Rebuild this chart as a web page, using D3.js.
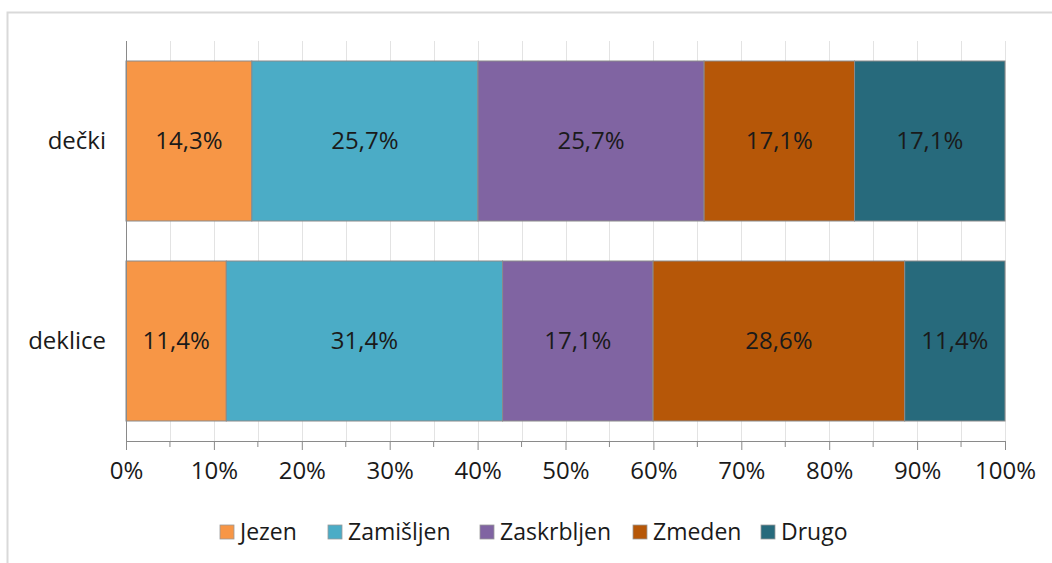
<!DOCTYPE html>
<html>
<head>
<meta charset="utf-8">
<script src="https://cdn.jsdelivr.net/npm/d3@7"></script>
<style>
  body { margin: 0; background: #fff; }
  svg { display: block; font-family: "Open Sans", "Liberation Sans", sans-serif; }
</style>
</head>
<body>
<div id="chart"></div>
<script>
const categories = ["dečki", "deklice"];
const seriesNames = ["Jezen", "Zamišljen", "Zaskrbljen", "Zmeden", "Drugo"];
const seriesColors = ["#F79646", "#4BACC6", "#8064A2", "#B65708", "#276A7C"];
// percentages per category, in series order
const valuesDecki = [14.3, 25.7, 25.7, 17.1, 17.1];
const valuesDeklice = [11.4, 31.4, 17.1, 28.6, 11.4];
const tickValues = [0, 0.1, 0.2, 0.3, 0.4, 0.5, 0.6, 0.7, 0.8, 0.9, 1];

const W = 1052, H = 563;
const margin = { top: 41, right: 47, bottom: 122, left: 126 };
const width = W - margin.left - margin.right;
const height = H - margin.top - margin.bottom;
const fontFam = "'Open Sans', 'Liberation Sans', sans-serif";

const rows = [valuesDecki, valuesDeklice].map((vals, i) => {
  const total = d3.sum(vals);
  let acc = 0;
  return {
    cat: categories[i],
    segs: vals.map((v, j) => {
      const s = { name: seriesNames[j], v, x0: acc / total, x1: (acc + v) / total };
      acc += v;
      return s;
    })
  };
});

const svg = d3.select("#chart").append("svg")
  .attr("width", W).attr("height", H);

// outer frame (clipped at right and bottom like the reference)
svg.append("path")
  .attr("d", `M7.5,${H} V12.5 H${W}`)
  .attr("fill", "none").attr("stroke", "#d9d9d9").attr("stroke-width", 2);

const g = svg.append("g").attr("transform", `translate(${margin.left},${margin.top})`);

const x = d3.scaleLinear().domain([0, 1]).range([0, width]);
const y = d3.scaleBand().domain(categories).range([0, height]).paddingInner(0.2).paddingOuter(0.1);

// gridlines every 5%
g.append("g").selectAll("line")
  .data(d3.range(1, 21).map(d => d / 20))
  .enter().append("line")
  .attr("x1", d => Math.round(x(d)) + 0.5).attr("x2", d => Math.round(x(d)) + 0.5)
  .attr("y1", 0).attr("y2", height)
  .attr("stroke", "#e3e3e3").attr("stroke-width", 1);

// bars
const rowG = g.selectAll(".row").data(rows).enter().append("g")
  .attr("transform", d => `translate(0,${y(d.cat)})`);

rowG.selectAll("rect").data(d => d.segs).enter().append("rect")
  .attr("x", d => x(d.x0)).attr("y", 0)
  .attr("width", d => x(d.x1) - x(d.x0))
  .attr("height", y.bandwidth())
  .attr("fill", (d, i) => seriesColors[i])
  .attr("stroke", "#8a8a8a").attr("stroke-width", 1);

rowG.selectAll("text").data(d => d.segs).enter().append("text")
  .attr("x", d => x((d.x0 + d.x1) / 2))
  .attr("y", y.bandwidth() / 2)
  .attr("dy", "0.35em")
  .attr("text-anchor", "middle")
  .attr("font-size", 24).attr("fill", "#1a1a1a")
  .text(d => d.v.toFixed(1).replace(".", ",") + "%");

// x axis
const xAxis = g.append("g").attr("transform", `translate(0,${height})`)
  .call(d3.axisBottom(x).tickValues(tickValues).tickSize(9).tickPadding(12)
    .tickFormat(d => Math.round(d * 100) + "%"));
xAxis.select(".domain").attr("stroke", "#8a8a8a");
xAxis.selectAll("line").attr("stroke", "#8a8a8a");
xAxis.selectAll("text").attr("font-size", 24).attr("fill", "#1a1a1a")
  .style("font-family", fontFam);
// minor ticks
xAxis.selectAll(".minor").data(d3.range(1, 20, 2).map(d => d / 20)).enter().append("line")
  .attr("class", "minor")
  .attr("x1", d => x(d)).attr("x2", d => x(d))
  .attr("y1", 0).attr("y2", 6)
  .attr("stroke", "#8a8a8a");

// y axis
const yAxis = g.append("g")
  .call(d3.axisLeft(y).tickSize(0).tickPadding(20));
yAxis.select(".domain").attr("stroke", "#8a8a8a").attr("d", `M0.5,0V${height}`);
yAxis.selectAll("text").attr("font-size", 24).attr("fill", "#1a1a1a")
  .style("font-family", fontFam);

// legend
const legendX = [220, 328, 480, 633, 761];
const legend = svg.append("g").attr("transform", "translate(0,525)");
const li = legend.selectAll("g").data(seriesNames).enter().append("g")
  .attr("transform", (d, i) => `translate(${legendX[i]},0)`);
li.append("rect").attr("width", 14).attr("height", 14)
  .attr("fill", (d, i) => seriesColors[i])
  .attr("stroke", "#9a9a9a").attr("stroke-width", 0.8);
li.append("text").attr("x", 20).attr("y", 7).attr("dy", "0.35em")
  .attr("font-size", 23).attr("fill", "#1a1a1a")
  .text(d => d);
</script>
</body>
</html>
